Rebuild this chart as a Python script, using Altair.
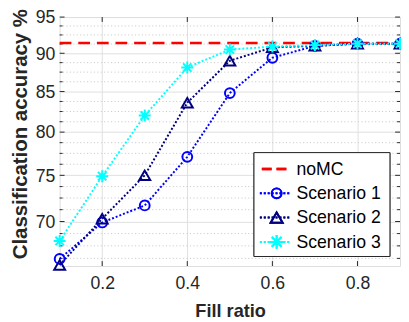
import altair as alt
import pandas as pd

# ---- data ----
fill_ratio = [0.1, 0.2, 0.3, 0.4, 0.5, 0.6, 0.7, 0.8, 0.9]
scenario1 = [66.2, 69.9, 71.7, 77.1, 84.8, 89.4, 91.0, 91.3, 91.3]
scenario2 = [65.6, 70.3, 75.0, 83.6, 89.0, 90.8, 91.0, 91.3, 91.3]
scenario3 = [68.0, 74.9, 82.0, 88.1, 90.5, 90.9, 91.1, 91.3, 91.3]
nomc_value = 91.4
series_names = ["noMC", "Scenario 1", "Scenario 2", "Scenario 3"]
series_colors = ["#ff0000", "#0000ff", "#000080", "#00ffff"]
x_ticks = [0.2, 0.4, 0.6, 0.8]
y_ticks = [70, 75, 80, 85, 90, 95]
y_minor = [66.25, 67.5, 68.75, 71.25, 72.5, 73.75, 76.25, 77.5, 78.75,
           81.25, 82.5, 83.75, 86.25, 87.5, 88.75, 91.25, 92.5, 93.75]

W, H = 347.3, 254
FONT = "Liberation Sans"
TXT = "#262626"
ASTERISK = "M-1,0L1,0M0,-1L0,1M-0.7,-0.7L0.7,0.7M-0.7,0.7L0.7,-0.7"

rows = []
for name, vals in zip(series_names[1:], [scenario1, scenario2, scenario3]):
    for x, y in zip(fill_ratio, vals):
        rows.append({"fill": x, "acc": y, "series": name})
df = pd.DataFrame(rows)
nomc_df = pd.DataFrame({"fill": [fill_ratio[0], fill_ratio[-1]],
                        "acc": [nomc_value, nomc_value], "series": ["noMC", "noMC"]})

xs = alt.Scale(domain=[0.1, 0.9], nice=False, zero=False)
ys = alt.Scale(type="log", domain=[65.5, 95], nice=False)
cs = alt.Scale(domain=series_names, range=series_colors)
ss = alt.Scale(domain=series_names[1:], range=["circle", "triangle-up", ASTERISK])
szs = alt.Scale(domain=series_names[1:], range=[100, 150, 200])

x_axis = alt.Axis(values=x_ticks, format=".1f", title="Fill ratio", grid=True,
                  gridColor="#dfdfdf", gridWidth=1, ticks=False, domain=False,
                  labelFont=FONT, labelFontSize=18, labelColor=TXT, labelPadding=9,
                  titleFont=FONT, titleFontSize=18.5, titleFontWeight="bold", titleColor=TXT,
                  titleX=W / 2 + 0.3, titleY=51.3, titleBaseline="alphabetic")
y_axis = alt.Axis(values=y_ticks, format="d", title="Classification accuracy %", grid=True,
                  gridColor="#dfdfdf", gridWidth=1, ticks=False, domain=False,
                  labelFont=FONT, labelFontSize=18, labelColor=TXT, labelPadding=5,
                  labelOffset=1,
                  titleFont=FONT, titleFontSize=20.8, titleFontWeight="bold", titleColor=TXT,
                  titleX=-33.5, titleY=H / 2 - 8, titleAngle=270, titleAlign="center",
                  titleBaseline="alphabetic")

# minor dotted y grid
minor_df = pd.DataFrame({"acc": y_minor})
minor = alt.Chart(minor_df).mark_rule(color="#c4c4c4", strokeDash=[1, 2.5], strokeWidth=1).encode(
    y=alt.Y("acc:Q", scale=ys, axis=y_axis), x=alt.value(0), x2=alt.value(W))

# tick marks (inside, both sides)
xt_df = pd.DataFrame({"fill": x_ticks})
yt_df = pd.DataFrame({"acc": y_ticks})
tick_layers = []
for y0, y1 in [(H, H - 5), (0, 5)]:
    tick_layers.append(alt.Chart(xt_df).mark_rule(color=TXT, strokeWidth=1).encode(
        x=alt.X("fill:Q", scale=xs, axis=x_axis), y=alt.value(y0), y2=alt.value(y1)))
for x0, x1 in [(0, 5), (W, W - 5)]:
    tick_layers.append(alt.Chart(yt_df).mark_rule(color=TXT, strokeWidth=1).encode(
        y=alt.Y("acc:Q", scale=ys, axis=y_axis), x=alt.value(x0), x2=alt.value(x1)))
for x0, x1 in [(0, 3), (W, W - 3)]:
    tick_layers.append(alt.Chart(minor_df).mark_rule(color=TXT, strokeWidth=1).encode(
        y=alt.Y("acc:Q", scale=ys, axis=y_axis), x=alt.value(x0), x2=alt.value(x1)))

nomc = alt.Chart(nomc_df).mark_line(strokeDash=[12, 7], strokeWidth=2.5).encode(
    x=alt.X("fill:Q", scale=xs, axis=x_axis),
    y=alt.Y("acc:Q", scale=ys, axis=y_axis),
    color=alt.Color("series:N", scale=cs, legend=None))

lines = alt.Chart(df).mark_line(strokeDash=[2, 2], strokeWidth=2).encode(
    x=alt.X("fill:Q", scale=xs, axis=x_axis),
    y=alt.Y("acc:Q", scale=ys, axis=y_axis),
    color=alt.Color("series:N", scale=cs, legend=None),
    detail="series:N")

points = alt.Chart(df).mark_point(filled=False, strokeWidth=2, opacity=1).encode(
    x=alt.X("fill:Q", scale=xs, axis=x_axis),
    y=alt.Y("acc:Q", scale=ys, axis=y_axis),
    color=alt.Color("series:N", scale=cs, legend=None),
    shape=alt.Shape("series:N", scale=ss, legend=None),
    size=alt.Size("series:N", scale=szs, legend=None))

# ---- manual legend ----
lx0, lx1, lmx, ltx = 204.3, 236.3, 221.4, 241.6
legend_layers = [alt.Chart(nomc_df).mark_rect(fill="white", stroke=TXT, strokeWidth=1).encode(
    x=alt.value(198.3), x2=alt.value(337), y=alt.value(138.3), y2=alt.value(244.3))]
legend_shapes = [None, "circle", "triangle-up", ASTERISK]
legend_sizes = [0, 100, 150, 200]
for i, (name, col, shp, sz) in enumerate(zip(series_names, series_colors, legend_shapes, legend_sizes)):
    ry = 155 + 24.8 * i
    if i == 0:
        rule = alt.Chart(nomc_df).mark_rule(color=col, strokeWidth=2.5, strokeDash=[10, 5]).encode(
            x=alt.value(lx0 + 2), x2=alt.value(lx1), y=alt.value(ry))
    else:
        rule = alt.Chart(nomc_df).mark_rule(color=col, strokeWidth=2, strokeDash=[2, 2]).encode(
            x=alt.value(lx0), x2=alt.value(lx1), y=alt.value(ry))
    legend_layers.append(rule)
    if shp is not None:
        legend_layers.append(alt.Chart(nomc_df).mark_point(
            shape=shp, size=sz, filled=False, color=col, strokeWidth=2, opacity=1).encode(
            x=alt.value(lmx), y=alt.value(ry)))
    legend_layers.append(alt.Chart(pd.DataFrame({"label": [name]})).mark_text(
        font=FONT, fontSize=18, fontWeight="normal", fill="#000000", strokeWidth=0,
        align="left", baseline="middle").encode(
        text="label:N", x=alt.value(ltx), y=alt.value(ry + 1)))

chart = alt.layer(minor, *tick_layers, nomc, lines, points, *legend_layers).properties(
    width=W, height=H,
    autosize=alt.AutoSizeParams(type="none"),
    padding={"left": 52.7, "top": 6, "right": 1, "bottom": 60},
).configure_view(stroke=TXT, strokeWidth=1).configure(background="white")

chart.save("out.html", embed_options={"renderer": "svg", "actions": False})
